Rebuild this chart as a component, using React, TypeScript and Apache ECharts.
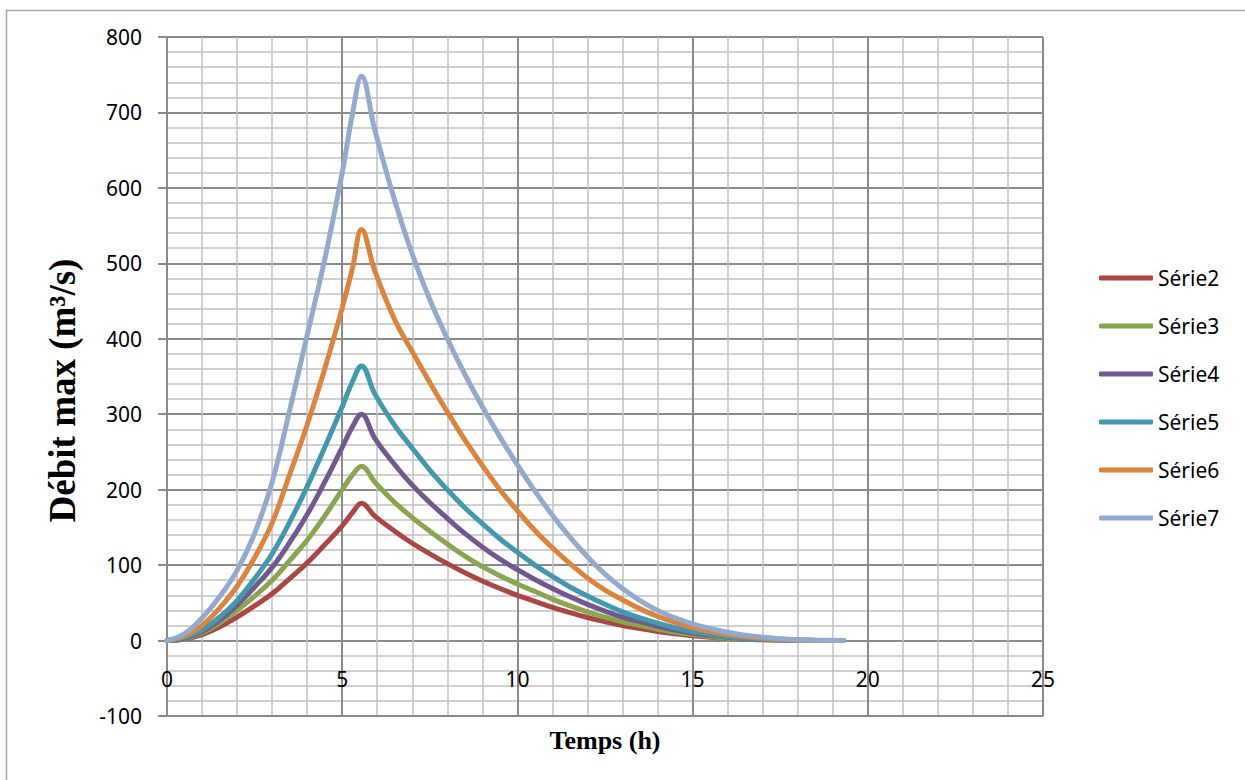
import React, { useEffect, useRef } from "react";
import * as echarts from "echarts";

// Time (h)
const times = [0, 0.5, 1, 1.5, 2, 2.5, 3, 3.5, 4, 4.5, 5, 5.3, 5.55, 5.93, 6.5, 7, 7.5, 8, 8.5, 9, 9.5, 10, 10.5, 11, 11.5, 12, 12.5, 13, 13.5, 14, 14.5, 15, 15.5, 16, 16.5, 17, 17.5, 18, 18.5, 19, 19.3];

// Débit (m3/s)
const serie2 = [0, 2, 8, 18, 31, 46, 62, 82, 103, 127, 152, 170, 182, 165, 145, 129, 115, 102, 90, 79, 69, 60, 52, 44, 37, 30.5, 25, 20, 16, 12, 9, 6.5, 4.5, 3, 1.8, 1.1, 0.6, 0.3, 0.1, 0, 0];
const serie3 = [0, 2, 10, 23, 40, 59, 80, 106, 133, 165, 200, 220, 231, 210, 183, 163, 145, 128, 112, 98, 86, 75, 65, 55, 46, 38, 31, 25, 20, 15, 11, 8, 5.5, 3.5, 2.2, 1.3, 0.7, 0.3, 0.1, 0, 0];
const serie4 = [0, 3, 12, 27, 47, 71, 97, 130, 167, 210, 256, 284, 300, 268, 233, 206, 183, 162, 142, 124, 108, 94, 81, 69, 58, 48, 39, 31, 25, 19, 14, 10, 7, 4.5, 2.8, 1.6, 0.9, 0.4, 0.15, 0, 0];
const serie5 = [0, 4, 14, 31, 53, 82, 115, 157, 204, 256, 310, 344, 364, 327, 285, 255, 226, 200, 176, 155, 135, 117, 100, 85, 71, 59, 48, 38, 30, 23, 17, 12, 8, 5, 3, 1.8, 1, 0.5, 0.2, 0, 0];
const serie6 = [0, 6, 20, 43, 72, 110, 156, 220, 286, 360, 441, 495, 545, 490, 425, 383, 342, 303, 266, 232, 200, 172, 146, 123, 102, 83, 67, 54, 42, 32, 24, 17, 12, 8, 5, 3, 1.6, 0.8, 0.3, 0, 0];
const serie7 = [0, 9, 30, 58, 93, 142, 210, 305, 405, 505, 620, 700, 748, 677, 583, 512, 452, 400, 353, 310, 270, 233, 198, 166, 137, 111, 88, 69, 53, 40, 30, 22, 16, 11, 7, 4.5, 2.5, 1.2, 0.5, 0.1, 0];

const seriesNames = ["Série2", "Série3", "Série4", "Série5", "Série6", "Série7"];
const seriesValues = [serie2, serie3, serie4, serie5, serie6, serie7];
const seriesColors = ["#AA4643", "#89A54E", "#71588F", "#4198AF", "#DB843D", "#93A9CF"];

const xTitle = "Temps (h)";
const yTitle = "Débit max (m³/s)";

export default function App() {
  const ref = useRef<HTMLDivElement>(null);

  useEffect(() => {
    if (!ref.current) return;
    const chart = echarts.init(ref.current, null, { renderer: "svg" });
    const labelFont = "'Noto Sans', sans-serif";
    const major = { color: "#8a8a8a", width: 2 };
    const minor = { color: "#c0c0c0", width: 1.5 };

    chart.setOption({
      animation: false,
      backgroundColor: "#ffffff",
      graphic: [
        {
          type: "rect",
          left: 4,
          top: 8,
          shape: { x: 0, y: 0, width: 1300, height: 800 },
          style: { fill: "none", stroke: "#a6a6a6", lineWidth: 1.5 },
          silent: true,
          z: -10,
        },
      ],
      grid: { left: 167, right: 202, top: 37, bottom: 64, containLabel: false, outerBoundsMode: "none" },
      legend: {
        orient: "vertical",
        left: 1094,
        top: 262,
        itemWidth: 54,
        itemHeight: 5,
        itemGap: 26,
        icon: "roundRect",
        textStyle: { fontSize: 21, lineHeight: 22, fontFamily: labelFont, color: "#000" },
        data: seriesNames,
      },
      xAxis: {
        type: "value",
        min: 0,
        max: 25,
        interval: 5,
        name: xTitle,
        nameLocation: "middle",
        nameGap: 11,
        nameTextStyle: { fontFamily: "'Liberation Serif', serif", fontWeight: "bold", fontSize: 26, color: "#000" },
        axisLine: { show: true, onZero: false, lineStyle: major },
        axisTick: { show: false },
        axisLabel: { margin: -48, fontSize: 21, fontFamily: labelFont, color: "#000" },
        splitLine: { show: true, lineStyle: major },
        minorTick: { show: false, splitNumber: 5 },
        minorSplitLine: { show: true, lineStyle: minor },
      },
      yAxis: {
        type: "value",
        min: -100,
        max: 800,
        interval: 100,
        name: yTitle,
        nameLocation: "middle",
        nameRotate: 90,
        nameGap: 86,
        nameTextStyle: { fontFamily: "'Liberation Serif', serif", fontWeight: "bold", fontSize: 37, color: "#000", padding: [0, 28, 0, 0] },
        axisLine: { show: true, onZero: false, lineStyle: major },
        axisTick: { show: true, length: 9, lineStyle: major },
        axisLabel: { margin: 25, fontSize: 21, fontFamily: labelFont, color: "#000" },
        splitLine: { show: true, lineStyle: major },
        minorTick: { show: false, splitNumber: 5 },
        minorSplitLine: { show: true, lineStyle: minor },
      },
      series: seriesNames.map((name, i) => ({
        name,
        type: "line",
        data: times.map((t, k) => [t, seriesValues[i][k]]),
        showSymbol: false,
        smooth: 0.4,
        color: seriesColors[i],
        lineStyle: { width: 5, color: seriesColors[i], cap: "round", join: "round" },
        z: 2 + i,
      })),
    });

    return () => chart.dispose();
  }, []);

  return (
    <div
      ref={ref}
      style={{ position: "absolute", left: 0, top: 0, width: 1245, height: 780, background: "#fff" }}
    />
  );
}
